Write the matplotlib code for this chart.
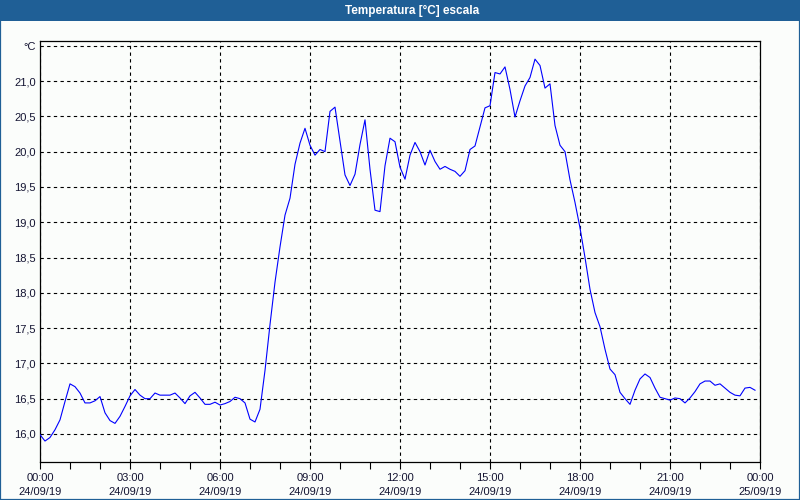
import matplotlib
matplotlib.use("Agg")
import matplotlib.pyplot as plt
import matplotlib.dates as mdates
from matplotlib.patches import Rectangle
import pandas as pd

title = "Temperatura [°C] escala"
start = "2019-09-24 00:00"
end = "2019-09-25 00:00"
step = "10min"

# temperature readings every 10 minutes from 00:00
temps = [
    15.99, 15.90, 15.95, 16.06, 16.20, 16.46, 16.71, 16.67, 16.58, 16.44,
    16.44, 16.47, 16.53, 16.30, 16.19, 16.15, 16.25, 16.39, 16.54, 16.63,
    16.55, 16.50, 16.50, 16.58, 16.55, 16.55, 16.55, 16.58, 16.51, 16.43,
    16.54, 16.59, 16.51, 16.42, 16.42, 16.45, 16.41, 16.43, 16.46, 16.52,
    16.50, 16.44, 16.21, 16.17, 16.35, 16.90, 17.55, 18.15, 18.65, 19.10,
    19.34, 19.82, 20.12, 20.33, 20.09, 19.95, 20.03, 20.00, 20.57, 20.63,
    20.15, 19.67, 19.52, 19.68, 20.10, 20.45, 19.75, 19.17, 19.15, 19.80,
    20.19, 20.14, 19.78, 19.61, 19.95, 20.13, 20.00, 19.81, 20.02, 19.86,
    19.75, 19.79, 19.75, 19.72, 19.65, 19.73, 20.03, 20.08, 20.35, 20.62,
    20.65, 21.12, 21.10, 21.20, 20.88, 20.49, 20.72, 20.93, 21.05, 21.31,
    21.22, 20.90, 20.96, 20.37, 20.09, 20.00, 19.60, 19.28, 18.92, 18.50,
    18.05, 17.72, 17.52, 17.20, 16.92, 16.84, 16.59, 16.50, 16.42, 16.62,
    16.78, 16.85, 16.80, 16.65, 16.52, 16.50, 16.48, 16.51, 16.50, 16.44,
    16.51, 16.60, 16.71, 16.75, 16.75, 16.69, 16.71, 16.65, 16.59, 16.55,
    16.54, 16.65, 16.66, 16.62,
]
y_ticks = [16.0, 16.5, 17.0, 17.5, 18.0, 18.5, 19.0, 19.5, 20.0, 20.5, 21.0, 21.5]
y_labels = ["16,0", "16,5", "17,0", "17,5", "18,0", "18,5", "19,0", "19,5",
            "20,0", "20,5", "21,0", "°C"]

times = pd.date_range(start, periods=len(temps), freq=step)

plt.rcParams['font.family'] = ['Liberation Sans', 'DejaVu Sans']
bg = '#fbfdfb'
txt = '#141432'
blue_bar = '#1f5f96'

fig = plt.figure(figsize=(8, 5), dpi=100, facecolor=bg)
ax = fig.add_axes([40 / 800, 1 - 462 / 500, 720 / 800, 421 / 500])
ax.set_facecolor(bg)

ax.plot(times, temps, color='#0000ff', lw=0.8, zorder=3)

ax.set_xlim(pd.Timestamp(start), pd.Timestamp(end))
ax.set_ylim(15.603, 21.567)

ax.set_yticks(y_ticks)
ax.set_yticklabels(y_labels)
ax.xaxis.set_major_locator(mdates.HourLocator(byhour=range(0, 24, 3)))
ax.xaxis.set_minor_locator(mdates.HourLocator())
ax.xaxis.set_major_formatter(mdates.DateFormatter('%H:%M'))

ax.tick_params(axis='y', length=0, pad=3, labelsize=8, labelcolor=txt)
ax.tick_params(axis='x', which='both', direction='out', length=5, width=0.8,
               pad=3, labelsize=8, labelcolor=txt, color='black')

# second line of the x tick labels (date)
for loc in ax.xaxis.get_majorticklocs():
    ax.annotate(mdates.num2date(loc).strftime('%d/%m/%y'), xy=(loc, 0),
                xycoords=('data', 'axes fraction'), xytext=(0, -21.6),
                textcoords='offset points', ha='center', va='center',
                fontsize=8, color=txt, annotation_clip=False)

ax.grid(True, which='major', color='black', lw=0.8, linestyle=(0, (3, 3)))
for sp in ax.spines.values():
    sp.set_color('black')
    sp.set_linewidth(0.9)

# title bar and window border
fig.patches.append(Rectangle((0, 1 - 21 / 500), 1, 21 / 500, transform=fig.transFigure,
                             facecolor=blue_bar, edgecolor='none', zorder=5))
fig.patches.append(Rectangle((0.0006, 0.001), 0.9988, 0.998, transform=fig.transFigure,
                             facecolor='none', edgecolor=blue_bar, lw=1.6, zorder=6))
fig.text(0.515, 1 - 10.5 / 500, title, color='white', fontsize=8.5, fontweight='bold',
         ha='center', va='center', zorder=7)

fig.savefig('out.png', dpi=100, facecolor=bg)
